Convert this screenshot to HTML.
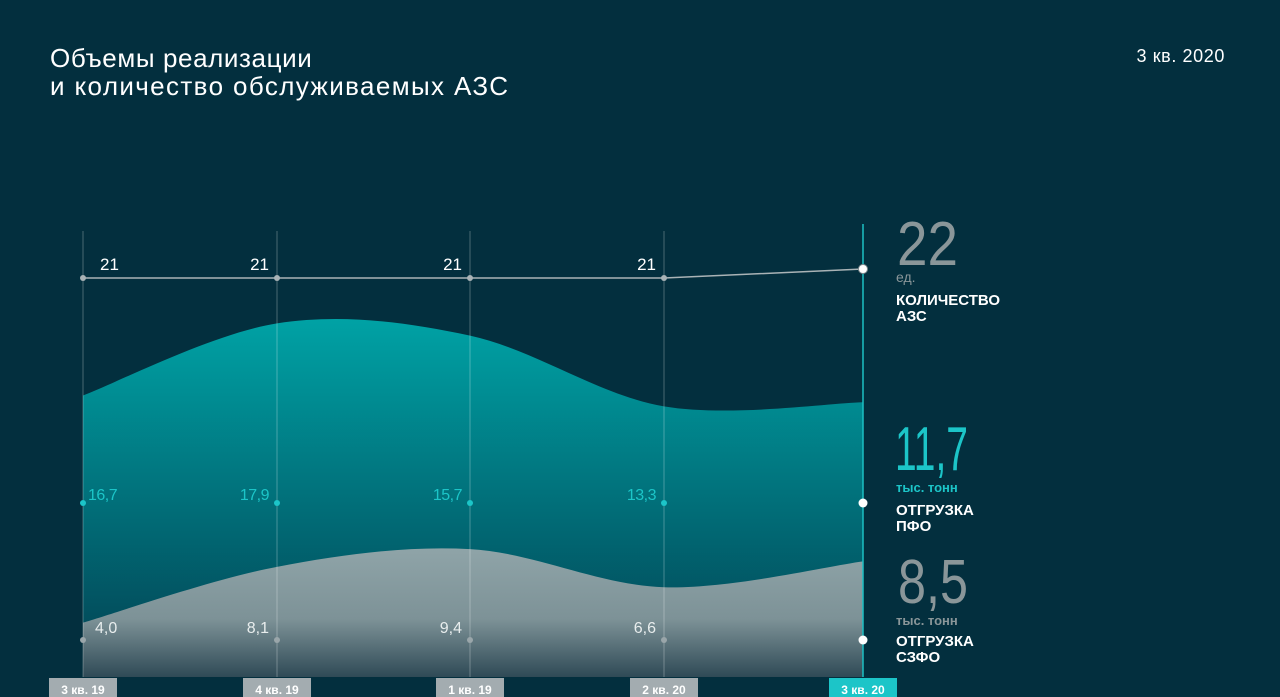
<!DOCTYPE html>
<html><head><meta charset="utf-8">
<style>
html,body{margin:0;padding:0;background:#032f3e;}
body{width:1280px;height:697px;overflow:hidden;font-family:"Liberation Sans","Noto Sans CJK SC",sans-serif;}
svg{display:block}
</style></head>
<body>
<svg id="chart" width="1280" height="697" viewBox="0 0 1280 697" xmlns="http://www.w3.org/2000/svg">
<defs>
<linearGradient id="gTeal" x1="0" y1="0" x2="0" y2="1" gradientUnits="objectBoundingBox">
<stop offset="0" stop-color="#00a2a5"/><stop offset="1" stop-color="#023f50"/></linearGradient>
<linearGradient id="gGray" x1="0" y1="0" x2="0" y2="1">
<stop offset="0" stop-color="#8fa4a8"/><stop offset="0.55" stop-color="#7d9297"/><stop offset="1" stop-color="#2f4a56"/></linearGradient>
</defs>
<rect width="1280" height="697" fill="#032f3e"/>
<text x="50" y="67" fill="#fff" font-size="26" letter-spacing="0.6">Объемы реализации</text>
<text x="50" y="95" fill="#fff" font-size="26" textLength="458" lengthAdjust="spacing">и количество обслуживаемых АЗС</text>
<text x="1225" y="62" fill="#fff" font-size="18" letter-spacing="0.6" text-anchor="end">3 кв. 2020</text>
<g id="areas"></g>
<g id="grid"></g>
<g id="marks"></g>
<g id="xlabels"></g>
<g>
<text x="897" y="265" fill="#8a9699" font-size="62" textLength="61" lengthAdjust="spacingAndGlyphs">22</text>
<text x="896" y="282" fill="#8a9699" font-size="14">ед.</text>
<text x="896" y="305" fill="#fff" font-size="15" font-weight="bold">КОЛИЧЕСТВО</text>
<text x="896" y="321" fill="#fff" font-size="15" font-weight="bold">АЗС</text>
<text x="895" y="470" fill="#1cc5c8" font-size="62" textLength="73" lengthAdjust="spacingAndGlyphs">11,7</text>
<text x="896" y="492" fill="#1cc5c8" font-size="13" font-weight="bold">тыс. тонн</text>
<text x="896" y="515" fill="#fff" font-size="15" font-weight="bold">ОТГРУЗКА</text>
<text x="896" y="531" fill="#fff" font-size="15" font-weight="bold">ПФО</text>
<text x="898" y="603" fill="#8a9699" font-size="62" textLength="70" lengthAdjust="spacingAndGlyphs">8,5</text>
<text x="896" y="625" fill="#8a9699" font-size="13" font-weight="bold">тыс. тонн</text>
<text x="896" y="646" fill="#fff" font-size="15" font-weight="bold">ОТГРУЗКА</text>
<text x="896" y="662" fill="#fff" font-size="15" font-weight="bold">СЗФО</text>
</g>
</svg>
<script>
const categories = ["3 кв. 19","4 кв. 19","1 кв. 19","2 кв. 20","3 кв. 20"];
const szfo = [4.0, 8.1, 9.4, 6.6, 8.5];
const pfo = [16.7, 17.9, 15.7, 13.3, 11.7];
const azs = [21, 21, 21, 21, 22];
const szfoLabels = ["4,0","8,1","9,4","6,6"];
const pfoLabels = ["16,7","17,9","15,7","13,3"];

const NS = "http://www.w3.org/2000/svg";
const xs = [83, 277, 470, 664, 863];
function xPos(i){ return xs[i]; }
const baseY = 677, scale = 13.6;
function yVol(v){ return baseY - v*scale; }
function yAzs(v){ return 278 - (v-21)*9; }
function mk(tag, attrs, parent){ const e=document.createElementNS(NS,tag); for(const k in attrs) e.setAttribute(k,attrs[k]); parent.appendChild(e); return e; }

function smooth(pts){
  let d = "M"+pts[0][0]+","+pts[0][1];
  const n = pts.length;
  for(let i=0;i<n-1;i++){
    const p0 = pts[Math.max(0,i-1)], p1 = pts[i], p2 = pts[i+1], p3 = pts[Math.min(n-1,i+2)];
    const t = 1/6;
    const c1 = [p1[0]+(p2[0]-p0[0])*t, p1[1]+(p2[1]-p0[1])*t];
    const c2 = [p2[0]-(p3[0]-p1[0])*t, p2[1]-(p3[1]-p1[1])*t];
    d += " C"+c1[0]+","+c1[1]+" "+c2[0]+","+c2[1]+" "+p2[0]+","+p2[1];
  }
  return d;
}
const areas = document.getElementById('areas');
const topPts = categories.map((c,i)=>[xPos(i), yVol(szfo[i]+pfo[i])]);
const grayPts = categories.map((c,i)=>[xPos(i), yVol(szfo[i])]);
const last = categories.length-1;
const tealArea = mk('path',{d:smooth(topPts)+" L"+xPos(last)+","+baseY+" L"+xPos(0)+","+baseY+" Z", fill:"url(#gTeal)"}, areas);


const grayArea = mk('path',{d:smooth(grayPts)+" L"+xPos(last)+","+baseY+" L"+xPos(0)+","+baseY+" Z", fill:"url(#gGray)"}, areas);



const grid = document.getElementById('grid');
categories.forEach((c,i)=>{
  const isLast = i===last;
  const ln = mk('line',{x1:xPos(i),x2:xPos(i),y1:isLast?224:231,y2:baseY,stroke:isLast?"#1cc0c4":"rgba(255,255,255,0.28)","stroke-width":isLast?1.5:1}, grid);
  
  
});

const marks = document.getElementById('marks');
const azsPts = azs.map((v,i)=>xPos(i)+","+yAzs(v)).join(" ");
const pl = mk('polyline',{points:azsPts,fill:"none",stroke:"#a9b3b6","stroke-width":1.5}, marks);


categories.forEach((c,i)=>{
  const isLast=i===last;
  const d1 = mk('circle',{cx:xPos(i),cy:yAzs(azs[i]),r:isLast?4.5:3,fill:isLast?"#fff":"#a9b3b6",stroke:isLast?"#7f8b8f":"none"}, marks);
  
  
  const d2 = mk('circle',{cx:xPos(i),cy:503,r:isLast?4.5:3,fill:isLast?"#fff":"#1cc5c8"}, marks);
  
  
  const d3 = mk('circle',{cx:xPos(i),cy:640,r:isLast?4.5:3,fill:isLast?"#fff":"#9aa6aa"}, marks);
  
  
  if(!isLast){
    const first=i===0;
    const t1 = mk('text',{x:first?xPos(i)+17:xPos(i)-8,y:270,fill:"#fff","font-size":17,"text-anchor":first?"start":"end"}, marks);
    t1.textContent = String(azs[i]);
    
    
    const t2 = mk('text',{x:first?xPos(i)+5:xPos(i)-8,y:500,fill:"#1cc5c8","font-size":16,"text-anchor":first?"start":"end","letter-spacing":-0.5}, marks);
    t2.textContent = pfoLabels[i];
    
    
    const t3 = mk('text',{x:first?xPos(i)+12:xPos(i)-8,y:633,fill:"#e8eded","font-size":16,"text-anchor":first?"start":"end"}, marks);
    t3.textContent = szfoLabels[i];
    
    
  }
});

const xl = document.getElementById('xlabels');
categories.forEach((c,i)=>{
  const isLast=i===last;
  const r = mk('rect',{x:xPos(i)-34,y:678,width:68,height:19,fill:isLast?"#1cc5c8":"#a3acb0"}, xl);
  
  
  const t = mk('text',{x:xPos(i),y:694,fill:"#fff","font-size":12,"font-weight":"bold","text-anchor":"middle"}, xl);
  t.textContent = c;
  
  
});
</script>
</body></html>
